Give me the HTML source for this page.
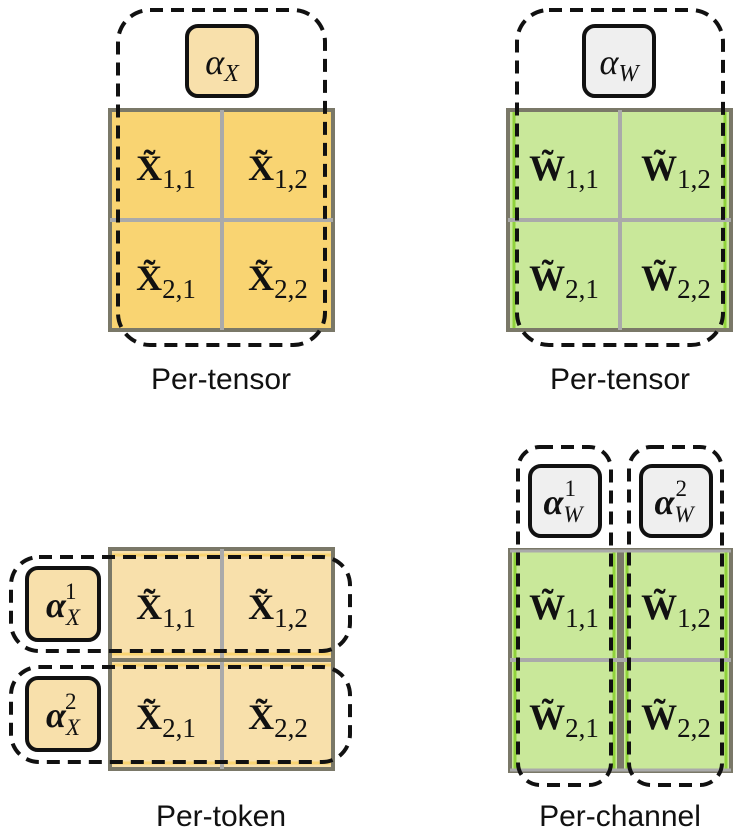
<!DOCTYPE html>
<html><head><meta charset="utf-8"><style>
html,body{margin:0;padding:0;background:#fff;width:747px;height:839px;overflow:hidden}
svg{display:block}
.lab{font-family:"Liberation Sans",sans-serif;font-size:30px;fill:#111}
.m{font-family:"Liberation Serif",serif;fill:#111}
</style></head><body>
<svg width="747" height="839" viewBox="0 0 747 839">
<g>
  <rect x="110" y="110" width="223" height="220" fill="#f9d472" stroke="#7a7868" stroke-width="4"/>
  <line x1="222" y1="110" x2="222" y2="330" stroke="#aaa" stroke-width="4"/>
  <line x1="110" y1="220" x2="333" y2="220" stroke="#aaa" stroke-width="4"/>
  <rect x="118" y="10" width="207" height="335" rx="32" fill="none" stroke="#111" stroke-width="4" stroke-dasharray="13,8"/>
  <rect x="187" y="26" width="70" height="70" rx="11" fill="#f8e0ab" stroke="#111" stroke-width="4"/>
  <text x="222" y="74" text-anchor="middle" class="m" font-size="36" font-style="italic">α<tspan font-size="24" dy="7">X</tspan></text>
  <text x="166" y="180" text-anchor="middle" class="m" font-size="36"><tspan font-weight="bold">X̃</tspan><tspan font-size="27" dy="8">1,1</tspan></text>
  <text x="278" y="180" text-anchor="middle" class="m" font-size="36"><tspan font-weight="bold">X̃</tspan><tspan font-size="27" dy="8">1,2</tspan></text>
  <text x="166" y="290" text-anchor="middle" class="m" font-size="36"><tspan font-weight="bold">X̃</tspan><tspan font-size="27" dy="8">2,1</tspan></text>
  <text x="278" y="290" text-anchor="middle" class="m" font-size="36"><tspan font-weight="bold">X̃</tspan><tspan font-size="27" dy="8">2,2</tspan></text>
  <text x="221" y="389" text-anchor="middle" class="lab">Per-tensor</text>
</g>
<g>
  <rect x="508" y="110" width="223" height="220" fill="#c9e89a" stroke="#7a7868" stroke-width="4"/>
  <line x1="514" y1="112" x2="514" y2="328" stroke="#8fd23a" stroke-width="3"/>
  <line x1="725" y1="112" x2="725" y2="328" stroke="#8fd23a" stroke-width="3"/>
  <line x1="620" y1="110" x2="620" y2="330" stroke="#aaa" stroke-width="4"/>
  <line x1="508" y1="220" x2="731" y2="220" stroke="#aaa" stroke-width="4"/>
  <rect x="517" y="10" width="206" height="335" rx="32" fill="none" stroke="#111" stroke-width="4" stroke-dasharray="13,8"/>
  <rect x="584" y="26" width="70" height="70" rx="11" fill="#efefef" stroke="#111" stroke-width="4"/>
  <text x="619" y="74" text-anchor="middle" class="m" font-size="36" font-style="italic">α<tspan font-size="24" dy="7">W</tspan></text>
  <text x="564" y="180" text-anchor="middle" class="m" font-size="36"><tspan font-weight="bold">W̃</tspan><tspan font-size="27" dy="8">1,1</tspan></text>
  <text x="676" y="180" text-anchor="middle" class="m" font-size="36"><tspan font-weight="bold">W̃</tspan><tspan font-size="27" dy="8">1,2</tspan></text>
  <text x="564" y="290" text-anchor="middle" class="m" font-size="36"><tspan font-weight="bold">W̃</tspan><tspan font-size="27" dy="8">2,1</tspan></text>
  <text x="676" y="290" text-anchor="middle" class="m" font-size="36"><tspan font-weight="bold">W̃</tspan><tspan font-size="27" dy="8">2,2</tspan></text>
  <text x="620" y="389" text-anchor="middle" class="lab">Per-tensor</text>
</g>
<g>
  <rect x="110" y="549" width="223" height="220" fill="#f8e0ab" stroke="#7a7868" stroke-width="4"/>
  <line x1="112" y1="555" x2="331" y2="555" stroke="#f9d472" stroke-width="3"/>
  <line x1="112" y1="654" x2="331" y2="654" stroke="#f9d472" stroke-width="3"/>
  <line x1="112" y1="665" x2="331" y2="665" stroke="#f9d472" stroke-width="3"/>
  <line x1="112" y1="763" x2="331" y2="763" stroke="#f9d472" stroke-width="3"/>
  <line x1="222" y1="549" x2="222" y2="769" stroke="#aaa" stroke-width="4"/>
  <line x1="110" y1="660" x2="333" y2="660" stroke="#7a7868" stroke-width="4"/>
  <rect x="11" y="557" width="339" height="94" rx="28" fill="none" stroke="#111" stroke-width="4" stroke-dasharray="13,8"/>
  <rect x="11" y="667" width="339" height="95" rx="28" fill="none" stroke="#111" stroke-width="4" stroke-dasharray="13,8"/>
  <rect x="27" y="568" width="72" height="72" rx="11" fill="#f8e0ab" stroke="#111" stroke-width="4"/>
  <rect x="27" y="678" width="72" height="72" rx="11" fill="#f8e0ab" stroke="#111" stroke-width="4"/>
  <text x="63" y="617" text-anchor="middle" class="m" font-size="36" font-weight="bold" font-style="italic">α<tspan font-size="23" font-weight="normal" dy="8">X</tspan><tspan font-size="23" font-weight="normal" font-style="normal" dx="-15" dy="-26">1</tspan></text>
  <text x="63" y="727" text-anchor="middle" class="m" font-size="36" font-weight="bold" font-style="italic">α<tspan font-size="23" font-weight="normal" dy="8">X</tspan><tspan font-size="23" font-weight="normal" font-style="normal" dx="-15" dy="-26">2</tspan></text>
  <text x="166" y="619" text-anchor="middle" class="m" font-size="36"><tspan font-weight="bold">X̃</tspan><tspan font-size="27" dy="8">1,1</tspan></text>
  <text x="278" y="619" text-anchor="middle" class="m" font-size="36"><tspan font-weight="bold">X̃</tspan><tspan font-size="27" dy="8">1,2</tspan></text>
  <text x="166" y="729" text-anchor="middle" class="m" font-size="36"><tspan font-weight="bold">X̃</tspan><tspan font-size="27" dy="8">2,1</tspan></text>
  <text x="278" y="729" text-anchor="middle" class="m" font-size="36"><tspan font-weight="bold">X̃</tspan><tspan font-size="27" dy="8">2,2</tspan></text>
  <text x="221" y="826" text-anchor="middle" class="lab">Per-token</text>
</g>
<g>
  <rect x="510" y="550" width="109" height="221" fill="#c9e89a" stroke="#7a7868" stroke-width="4"/>
  <rect x="622" y="550" width="109" height="221" fill="#c9e89a" stroke="#7a7868" stroke-width="4"/>
  <line x1="515" y1="552" x2="515" y2="769" stroke="#8fd23a" stroke-width="3"/>
  <line x1="614" y1="552" x2="614" y2="769" stroke="#8fd23a" stroke-width="3"/>
  <line x1="627" y1="552" x2="627" y2="769" stroke="#8fd23a" stroke-width="3"/>
  <line x1="726" y1="552" x2="726" y2="769" stroke="#8fd23a" stroke-width="3"/>
  <line x1="510" y1="660" x2="731" y2="660" stroke="#aaa" stroke-width="4"/>
  <line x1="510" y1="551" x2="731" y2="551" stroke="#aaa" stroke-width="3"/>
  <line x1="510" y1="770" x2="731" y2="770" stroke="#aaa" stroke-width="3"/>
  <rect x="518" y="447" width="93" height="338" rx="22" fill="none" stroke="#111" stroke-width="4" stroke-dasharray="13,8"/>
  <rect x="629" y="447" width="93" height="338" rx="22" fill="none" stroke="#111" stroke-width="4" stroke-dasharray="13,8"/>
  <rect x="530" y="466" width="70" height="70" rx="11" fill="#efefef" stroke="#111" stroke-width="4"/>
  <rect x="641" y="466" width="70" height="70" rx="11" fill="#efefef" stroke="#111" stroke-width="4"/>
  <text x="563" y="514" text-anchor="middle" class="m" font-size="36" font-weight="bold" font-style="italic">α<tspan font-size="23" font-weight="normal" dy="8">W</tspan><tspan font-size="23" font-weight="normal" font-style="normal" dx="-18" dy="-26">1</tspan></text>
  <text x="674" y="514" text-anchor="middle" class="m" font-size="36" font-weight="bold" font-style="italic">α<tspan font-size="23" font-weight="normal" dy="8">W</tspan><tspan font-size="23" font-weight="normal" font-style="normal" dx="-18" dy="-26">2</tspan></text>
  <text x="564" y="619" text-anchor="middle" class="m" font-size="36"><tspan font-weight="bold">W̃</tspan><tspan font-size="27" dy="8">1,1</tspan></text>
  <text x="676" y="619" text-anchor="middle" class="m" font-size="36"><tspan font-weight="bold">W̃</tspan><tspan font-size="27" dy="8">1,2</tspan></text>
  <text x="564" y="729" text-anchor="middle" class="m" font-size="36"><tspan font-weight="bold">W̃</tspan><tspan font-size="27" dy="8">2,1</tspan></text>
  <text x="676" y="729" text-anchor="middle" class="m" font-size="36"><tspan font-weight="bold">W̃</tspan><tspan font-size="27" dy="8">2,2</tspan></text>
  <text x="620" y="826" text-anchor="middle" class="lab">Per-channel</text>
</g>
</svg>
</body></html>
